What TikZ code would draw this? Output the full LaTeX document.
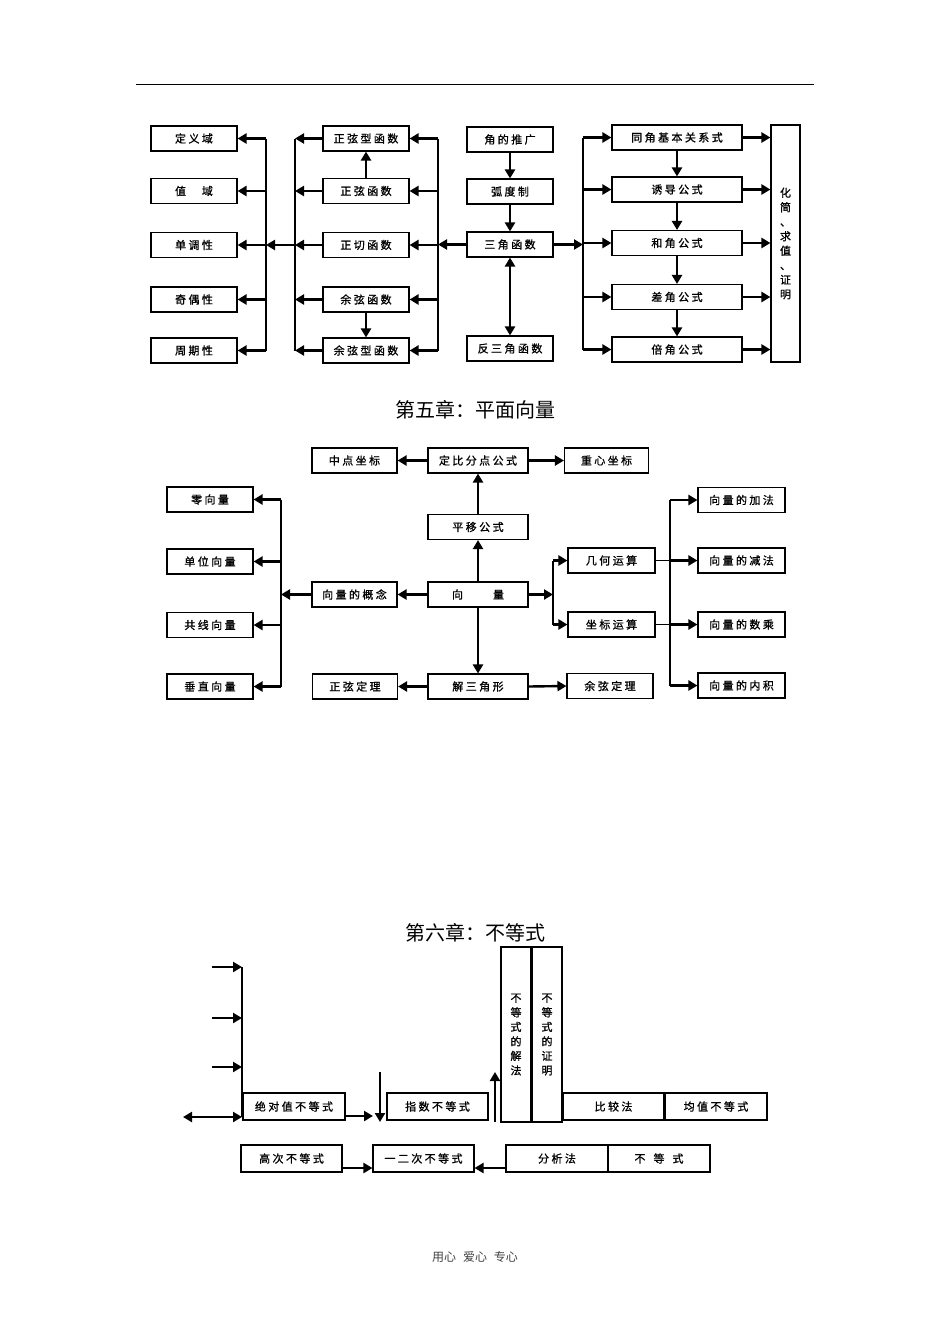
\documentclass[tikz,border=0pt]{standalone}
\usepackage{fontspec}
\setmainfont{Noto Sans CJK SC}
\newfontfamily\boxfont[LetterSpace=22,FakeBold=1]{Noto Sans CJK SC}
\newfontfamily\vfont[FakeBold=1]{Noto Sans CJK SC}
\usetikzlibrary{arrows.meta}
\tikzset{
	box/.style={draw, line width=1.1pt, inner sep=0pt, minimum height=25pt, minimum width=86pt, font=\boxfont\fontsize{11}{13}\selectfont},
	vbox/.style={draw, line width=1.1pt, inner sep=0pt, align=center, font=\vfont\fontsize{11}{14.5}\selectfont},
	arr/.style={line width=2.4pt, -{Triangle[length=9pt,width=10pt]}},
	darr/.style={line width=2.4pt, {Triangle[length=9pt,width=10pt]}-{Triangle[length=9pt,width=10pt]}},
	bus/.style={line width=1.5pt},
	thin line/.style={line width=1pt},
	chaptitle/.style={font=\fontsize{20}{24}\selectfont},
}

\begin{document}
\begin{tikzpicture}[x=1pt, y=-1pt]
			%%%%% START %%%%%
			\useasboundingbox (0,0) rectangle (950,1344);
			\draw[line width=0.8pt] (136,84) -- (814,84);
			
			%%%%% 三角函数 %%%%%
			\node[box] (dingyi) at (194,138.5) {定义域};
			\node[box] (zhiyu) at (194,191) {值　域};
			\node[box] (dandiao) at (194,245) {单调性};
			\node[box] (jiou) at (194,299.5) {奇偶性};
			\node[box] (zhouqi) at (194,350.5) {周期性};
			
			\node[box] (zxx) at (366,138.5) {正弦型函数};
			\node[box] (zx) at (366,191) {正弦函数};
			\node[box] (zq) at (366,245) {正切函数};
			\node[box] (yx) at (366,299.5) {余弦函数};
			\node[box] (yxx) at (366,350.5) {余弦型函数};
			
			\node[box] (tg) at (510,139.5) {角的推广};
			\node[box] (hd) at (510,191.5) {弧度制};
			\node[box] (sj) at (510,244.5) {三角函数};
			\node[box] (fsj) at (510,348.5) {反三角函数};
			
			\node[box, minimum width=130pt] (tj) at (677,137.5) {同角基本关系式};
			\node[box, minimum width=130pt] (yd) at (677,189.5) {诱导公式};
			\node[box, minimum width=130pt] (hj) at (677,243) {和角公式};
			\node[box, minimum width=130pt] (cj) at (677,297) {差角公式};
			\node[box, minimum width=130pt] (bj) at (677,349.5) {倍角公式};
			
			\node[vbox, minimum width=29pt, minimum height=237pt] (hqz) at (785.5,243.5) {化\\简\\、\\求\\值\\、\\证\\明};
			
			\coordinate (b1) at (266,245);
			\coordinate (b2) at (295,245);
			\coordinate (b3) at (438,245);
			\coordinate (b4) at (583,245);
			
			\draw[bus] (b1 |- dingyi) -- (b1 |- zhouqi);
			\draw[arr] (b1 |- dingyi) -- (dingyi.east);
			\draw[arr] (b1 |- zhiyu) -- (zhiyu.east);
			\draw[arr] (b1) -- (dandiao.east);
			\draw[arr] (b1 |- jiou) -- (jiou.east);
			\draw[arr] (b1 |- zhouqi) -- (zhouqi.east);
			\draw[arr] (b2) -- (b1);
			
			\draw[bus] (b2 |- zxx) -- (b2 |- yxx);
			\draw[arr] (zxx.west) -- (b2 |- zxx);
			\draw[arr] (zx.west) -- (b2 |- zx);
			\draw[arr] (zq.west) -- (b2 |- zq);
			\draw[arr] (yx.west) -- (b2 |- yx);
			\draw[arr] (yxx.west) -- (b2 |- yxx);
			\draw[arr] (zx.north) -- (zxx.south);
			\draw[arr] (yx.south) -- (yxx.north);
			
			\draw[bus] (b3 |- zxx) -- (b3 |- yxx);
			\draw[arr] (b3 |- zxx) -- (zxx.east);
			\draw[arr] (b3 |- zx) -- (zx.east);
			\draw[arr] (b3 |- zq) -- (zq.east);
			\draw[arr] (b3 |- yx) -- (yx.east);
			\draw[arr] (b3 |- yxx) -- (yxx.east);
			\draw[arr] (sj.west) -- (b3 |- sj);
			
			\draw[arr] (tg.south) -- (hd.north);
			\draw[arr] (hd.south) -- (sj.north);
			\draw[darr] (sj.south) -- (fsj.north);
			\draw[arr] (sj.east) -- (b4 |- sj);
			
			\draw[bus] (b4 |- tj) -- (b4 |- bj);
			\draw[arr] (b4 |- tj) -- (tj.west);
			\draw[arr] (b4 |- yd) -- (yd.west);
			\draw[arr] (b4 |- hj) -- (hj.west);
			\draw[arr] (b4 |- cj) -- (cj.west);
			\draw[arr] (b4 |- bj) -- (bj.west);
			\draw[arr] (tj.south) -- (yd.north);
			\draw[arr] (yd.south) -- (hj.north);
			\draw[arr] (hj.south) -- (cj.north);
			\draw[arr] (cj.south) -- (bj.north);
			
			\draw[arr] (tj.east) -- (hqz.west |- tj);
			\draw[arr] (yd.east) -- (hqz.west |- yd);
			\draw[arr] (hj.east) -- (hqz.west |- hj);
			\draw[arr] (cj.east) -- (hqz.west |- cj);
			\draw[arr] (bj.east) -- (hqz.west |- bj);
			
			%%%%% 平面向量 %%%%%
			\node[chaptitle] (t5) at (475,410) {第五章：平面向量};
			
			\node[box, minimum width=85pt] (zd) at (354.5,460.5) {中点坐标};
			\node[box, minimum width=100pt] (dbf) at (478,460.5) {定比分点公式};
			\node[box, minimum width=84pt] (zxzb) at (606.5,460.5) {重心坐标};
			\node[box, minimum width=100pt] (py) at (478,527) {平移公式};
			
			\node[box] (lx) at (210,499.5) {零向量};
			\node[box] (dw) at (210,561.5) {单位向量};
			\node[box] (gx) at (210,625) {共线向量};
			\node[box] (cz) at (210,686.5) {垂直向量};
			
			\node[box, minimum width=85pt] (gn) at (354.5,594.5) {向量的概念};
			\node[box, minimum width=100pt] (xl) at (478,594.5) {向\hspace{30pt}量};
			\node[box, minimum width=100pt] (jsj) at (478,686.5) {解三角形};
			\node[box, minimum width=85pt] (zxdl) at (355,686.5) {正弦定理};
			\node[box] (yxdl) at (610,686) {余弦定理};
			
			\node[box, minimum width=87pt] (jh) at (611.5,560.5) {几何运算};
			\node[box, minimum width=87pt] (zb) at (611.5,624.5) {坐标运算};
			
			\node[box, minimum width=87pt] (jiaf) at (741.5,500) {向量的加法};
			\node[box, minimum width=87pt] (jianf) at (741.5,560.5) {向量的减法};
			\node[box, minimum width=87pt] (shc) at (741.5,624.5) {向量的数乘};
			\node[box, minimum width=87pt] (nj) at (741.5,685.5) {向量的内积};
			
			\coordinate (b5) at (281,594.5);
			\coordinate (b6) at (553,594.5);
			\coordinate (b7) at (670,594.5);
			
			\draw[arr] (xl.north) -- (py.south);
			\draw[arr] (py.north) -- (dbf.south);
			\draw[arr] (dbf.west) -- (zd.east);
			\draw[arr] (dbf.east) -- (zxzb.west);
			\draw[arr] (xl.west) -- (gn.east);
			\draw[arr] (gn.west) -- (b5);
			\draw[arr] (xl.south) -- (jsj.north);
			\draw[arr] (jsj.west) -- (zxdl.east);
			\draw[arr] (jsj.east) -- (yxdl.west);
			
			\draw[bus] (b5 |- lx) -- (b5 |- cz);
			\draw[arr] (b5 |- lx) -- (lx.east);
			\draw[arr] (b5 |- dw) -- (dw.east);
			\draw[arr] (b5 |- gx) -- (gx.east);
			\draw[arr] (b5 |- cz) -- (cz.east);
			
			\draw[arr] (xl.east) -- (b6);
			\draw[bus] (b6 |- jh) -- (b6 |- zb);
			\draw[arr] (b6 |- jh) -- (jh.west);
			\draw[arr] (b6 |- zb) -- (zb.west);
			
			\draw[bus] (b7 |- jiaf) -- (b7 |- nj);
			\draw[thin line] (jh.east) -- (b7 |- jh);
			\draw[thin line] (zb.east) -- (b7 |- zb);
			\draw[arr] (b7 |- jiaf) -- (jiaf.west);
			\draw[arr] (b7 |- jianf) -- (jianf.west);
			\draw[arr] (b7 |- shc) -- (shc.west);
			\draw[arr] (b7 |- nj) -- (nj.west);
			
			%%%%% 不等式 %%%%%
			\node[chaptitle] (t6) at (475,933) {第六章：不等式};
			
			\node[box, minimum width=102pt, minimum height=27pt] (jdz) at (294,1106.5) {绝对值不等式};
			\node[box, minimum width=101pt, minimum height=27pt] (zs) at (437.5,1106.5) {指数不等式};
			\node[vbox, minimum width=30pt, minimum height=175pt] (jiefa) at (516,1034.5) {不\\等\\式\\的\\解\\法};
			\node[vbox, minimum width=30pt, minimum height=175pt] (zhm) at (547,1034.5) {不\\等\\式\\的\\证\\明};
			\node[box, minimum width=101pt, minimum height=27pt] (bjf) at (613.5,1106.5) {比较法};
			\node[box, minimum width=102pt, minimum height=27pt] (jzh) at (716,1106.5) {均值不等式};
			
			\node[box, minimum width=101pt, minimum height=27pt] (gc) at (291.5,1158.5) {高次不等式};
			\node[box, minimum width=101pt, minimum height=27pt] (yec) at (423.5,1158.5) {一二次不等式};
			\node[box, minimum width=102pt, minimum height=27pt] (fxf) at (557,1158.5) {分析法};
			\node[box, minimum width=102pt, minimum height=27pt] (bdsh) at (659,1158.5) {不\hspace{8pt}等\hspace{8pt}式};
			
			\coordinate (p1) at (212,967);
			\coordinate (p2) at (212,1018);
			\coordinate (p3) at (212,1067);
			\coordinate (p4) at (183,1117);
			\coordinate (b8) at (242,1117);
			\coordinate (p5) at (373,1116);
			\coordinate (p6) at (380,1072);
			\coordinate (p7) at (380,1122);
			\coordinate (p8) at (495,1122);
			\coordinate (p9) at (495,1072);
			
			\draw[bus] (b8 |- p1) -- (b8);
			\draw[arr] (p1) -- (b8 |- p1);
			\draw[arr] (p2) -- (b8 |- p2);
			\draw[arr] (p3) -- (b8 |- p3);
			\draw[darr] (p4) -- (b8);
			
			\draw[arr] (jdz.east |- p5) -- (p5);
			\draw[arr] (p6) -- (p7);
			\draw[arr] (p8) -- (p9);
			
			\draw[arr] ([yshift=-9.5pt]gc.east) -- ([yshift=-9.5pt]yec.west);
			\draw[arr] ([yshift=-9.5pt]fxf.west) -- ([yshift=-9.5pt]yec.east);
			
			\node[font=\fontsize{12}{14}\selectfont, text=black!75] (foot) at (475,1257) {用心\hspace{7pt}爱心\hspace{7pt}专心};
			%%%%% END %%%%%
\end{tikzpicture}
\end{document}
